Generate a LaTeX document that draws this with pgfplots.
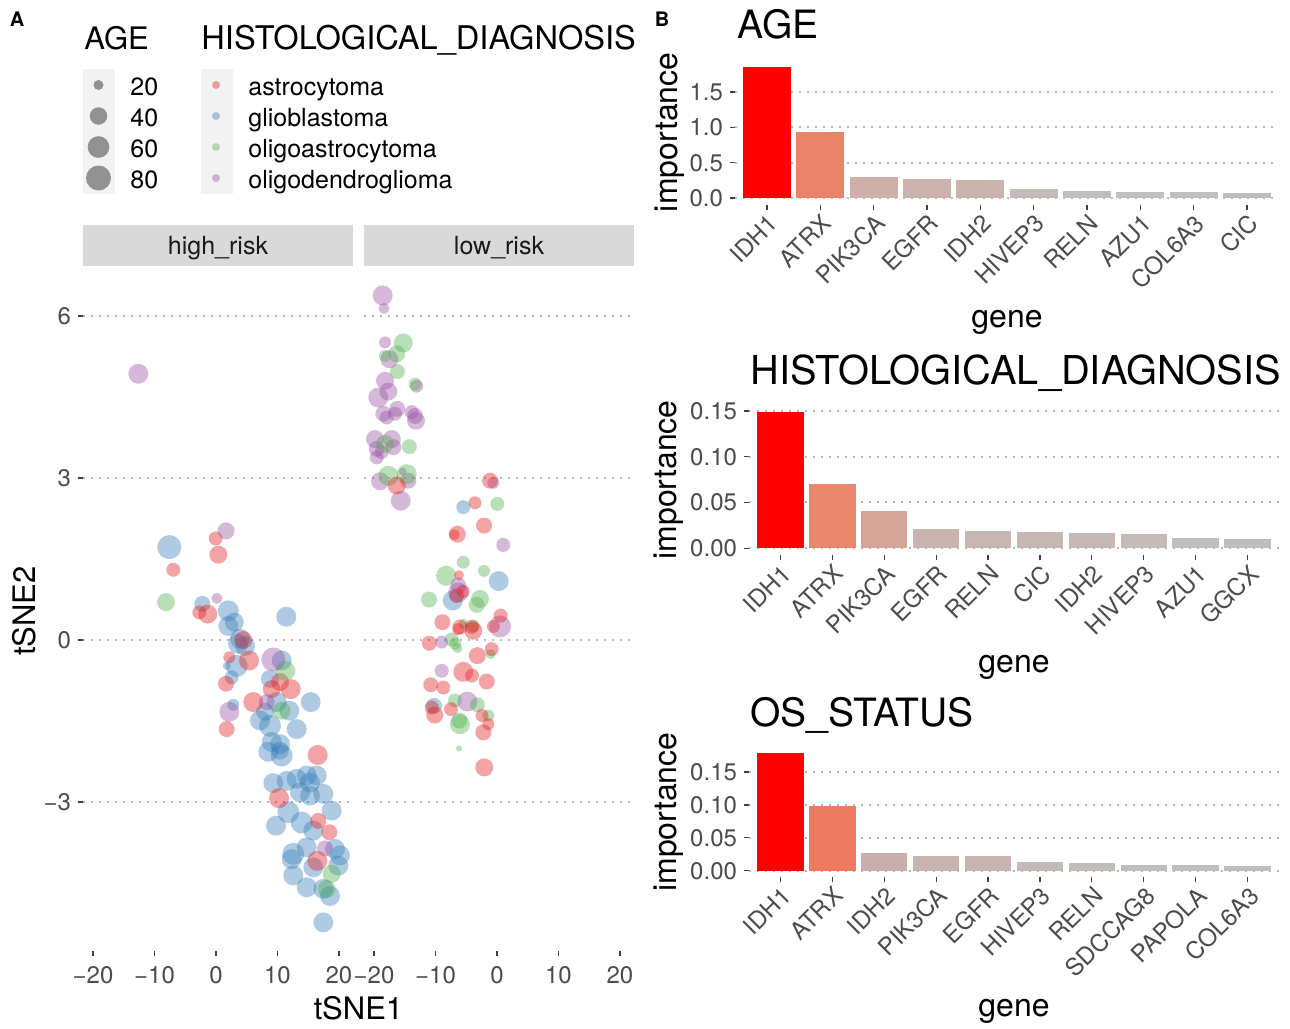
\documentclass[border=0pt]{standalone}
\usepackage{fontspec}
\setmainfont{TeX Gyre Heros}
\usepackage{pgfplots}
\usepackage{pgfplotstable}
\pgfplotsset{compat=1.18}

\definecolor{gridc}{HTML}{B8B8B8}
\definecolor{stripc}{HTML}{D9D9D9}
\definecolor{keybg}{HTML}{F2F2F2}
\definecolor{cls0}{HTML}{E41A1C}
\definecolor{cls1}{HTML}{377EB8}
\definecolor{cls2}{HTML}{4DAF4A}
\definecolor{cls3}{HTML}{984EA3}
\definecolor{cls4}{HTML}{000000}
% AGE bars
\definecolor{a1}{HTML}{FF0000}\definecolor{a2}{HTML}{E9836A}\definecolor{a3}{HTML}{CEB0A9}
\definecolor{a4}{HTML}{CCB2AC}\definecolor{a5}{HTML}{CBB3AD}\definecolor{a6}{HTML}{C4BBB9}
\definecolor{a7}{HTML}{C1BDBC}\definecolor{a8}{HTML}{C0BEBD}\definecolor{a9}{HTML}{C0BEBD}
\definecolor{a10}{HTML}{BEBEBE}
% HIST bars
\definecolor{h1}{HTML}{FF0000}\definecolor{h2}{HTML}{E9876D}\definecolor{h3}{HTML}{D7A597}
\definecolor{h4}{HTML}{C9B4AF}\definecolor{h5}{HTML}{C8B6B1}\definecolor{h6}{HTML}{C7B7B3}
\definecolor{h7}{HTML}{C6B8B5}\definecolor{h8}{HTML}{C4BAB8}\definecolor{h9}{HTML}{BFBEBE}
\definecolor{h10}{HTML}{BEBEBE}
% OS bars
\definecolor{o1}{HTML}{FF0000}\definecolor{o2}{HTML}{EE7A62}\definecolor{o3}{HTML}{CAB0AA}
\definecolor{o4}{HTML}{C8B3AE}\definecolor{o5}{HTML}{C8B3AE}\definecolor{o6}{HTML}{C3BBB9}
\definecolor{o7}{HTML}{C2BCBB}\definecolor{o8}{HTML}{BFBEBE}\definecolor{o9}{HTML}{BFBEBE}
\definecolor{o10}{HTML}{BEBEBE}

% c: 0 astrocytoma, 1 glioblastoma, 2 oligoastrocytoma, 3 oligodendroglioma; d: point diameter (px)
\pgfplotstableread{
x y d c
-12.63 4.93 20 3
-7.59 1.72 24 1
-0.05 1.88 14 0
1.63 2.02 17 3
0.37 1.58 18 0
-6.94 1.30 14 0
-8.13 0.70 18 2
-2.23 0.67 16 1
0.16 0.77 11 3
-2.72 0.51 14 0
-1.35 0.48 19 0
2.00 0.54 21 1
2.98 0.33 19 1
2.00 0.26 20 1
11.43 0.43 20 1
3.90 0.02 20 1
3.58 -0.07 20 1
4.72 -0.11 20 1
4.44 0.00 18 0
2.16 -0.32 12 0
1.74 -0.48 8 1
3.37 -0.48 22 1
5.37 -0.38 20 0
2.55 -0.69 14 1
1.63 -0.81 16 0
9.32 -0.36 24 3
10.68 -0.38 20 1
11.27 -0.57 20 2
8.78 -0.72 18 1
10.41 -0.78 18 0
9.06 -0.91 18 0
12.15 -0.91 20 0
6.07 -1.15 20 0
15.40 -1.15 20 1
2.81 -1.20 12 1
2.16 -1.33 20 3
1.74 -1.65 16 0
9.87 -1.15 20 1
8.24 -1.15 16 3
11.92 -1.31 20 1
7.97 -1.33 18 1
10.68 -1.31 18 2
7.15 -1.49 20 1
8.78 -1.59 22 1
13.12 -1.65 20 1
9.06 -1.89 20 1
10.41 -1.93 20 1
8.50 -2.07 20 1
10.41 -2.05 18 1
10.68 -2.14 22 1
16.54 -2.13 20 0
9.32 -2.65 20 1
11.50 -2.61 20 1
13.12 -2.57 20 1
14.75 -2.51 20 1
16.37 -2.51 20 1
15.28 -2.64 20 1
13.66 -2.82 20 1
15.28 -2.88 20 1
17.45 -2.85 20 1
18.81 -3.16 20 1
10.24 -2.93 20 0
11.76 -3.19 22 1
9.76 -3.44 20 1
13.93 -3.38 22 1
15.82 -3.53 20 1
16.63 -3.35 16 0
18.42 -3.56 16 0
14.75 -3.84 20 1
12.57 -3.96 22 1
12.31 -4.06 20 1
17.72 -3.86 16 3
19.35 -3.87 20 1
20.16 -3.99 20 1
15.82 -4.21 20 1
19.89 -4.18 20 1
16.47 -4.09 20 0
18.81 -4.33 18 2
12.57 -4.36 20 1
14.75 -4.58 20 1
17.45 -4.61 20 1
18.54 -4.74 20 1
18.00 -4.61 18 2
17.45 -5.23 20 1
}\hightbl

\pgfplotstableread{
x y d c
-18.59 6.38 20 3
-18.37 6.14 11 3
-18.21 5.51 12 3
-15.24 5.50 19 2
-16.31 5.30 17 2
-17.51 5.20 18 3
-18.21 5.26 12 2
-16.21 4.97 15 2
-18.21 4.80 18 3
-17.67 4.60 18 3
-19.30 4.49 20 3
-13.33 4.74 13 2
-13.06 4.70 13 3
-18.49 4.19 16 3
-16.21 4.28 16 3
-16.59 4.19 14 3
-17.93 4.12 14 3
-13.87 4.22 14 3
-13.17 4.06 18 3
-13.33 4.15 16 3
-19.84 3.72 18 3
-17.12 3.72 18 3
-19.56 3.54 16 3
-18.21 3.63 18 2
-18.75 3.48 14 3
-16.86 3.57 16 3
-19.56 3.38 14 3
-14.26 3.58 15 2
-17.67 3.04 20 2
-14.68 3.07 20 2
-19.02 2.94 18 3
-14.42 2.95 16 3
-15.33 3.12 8 3
-16.31 2.86 18 0
-15.66 2.58 20 3
-1.14 2.95 16 0
-0.60 2.91 12 3
-5.48 2.46 14 1
-3.58 2.54 13 0
0.05 2.52 14 2
-2.11 2.12 16 0
-6.46 1.96 17 0
-6.94 1.95 11 0
1.02 1.76 14 3
-5.48 1.44 13 2
-2.11 1.28 12 2
0.28 1.09 20 1
-8.29 1.19 20 2
-6.18 1.20 10 0
-6.29 1.01 16 3
-6.29 0.88 20 3
-5.48 0.90 13 0
-6.55 0.82 15 0
-7.20 0.73 20 1
-11.06 0.75 16 2
-2.76 0.76 18 2
-3.30 0.65 16 2
-8.89 0.33 16 0
-6.02 0.24 15 0
-6.29 0.20 12 0
-5.48 0.30 10 2
-4.11 0.24 14 0
-3.85 0.17 18 0
-3.85 0.26 13 2
0.60 0.45 14 0
0.49 0.25 22 3
-0.60 0.25 13 0
-11.01 -0.06 15 0
-8.99 -0.04 13 3
-7.37 0.01 14 2
-6.83 -0.07 12 2
-6.46 -0.15 10 2
-0.86 -0.17 14 0
-1.02 -0.26 10 2
-3.20 -0.29 17 0
-8.99 -0.57 14 3
-5.48 -0.59 20 0
-4.07 -0.66 14 0
-1.67 -0.77 16 0
-10.78 -0.83 15 0
-8.73 -0.88 14 0
-10.24 -1.22 16 1
-10.62 -1.25 14 0
-10.13 -1.39 17 0
-7.48 -1.28 14 0
-6.83 -1.12 14 2
-4.83 -1.14 20 3
-3.20 -1.20 15 2
-2.44 -1.40 13 0
-1.41 -1.40 12 2
-6.13 -1.49 16 2
-6.02 -1.56 20 2
-1.41 -1.56 12 0
-2.23 -1.71 16 0
-6.18 -2.01 6 2
-2.07 -2.36 18 0
}\lowtbl

\pgfplotstableread{
x y d c
98.5 85 10 4
98.5 116 17.5 4
98.5 147 21.7 4
98.5 178 25 4
216 85 8 0
216 116 8 1
216 147 8 2
216 178 8 3
}\legtbl

\pgfplotsset{
  pts/.style={scatter, only marks, mark=*, point meta=y,
    visualization depends on={\thisrow{d}\as\dsz},
    scatter/use mapped color={draw opacity=0, fill=#1, fill opacity=0.4},
    scatter/@pre marker code/.append style={/tikz/mark size=\dsz/4}},
  cl/.style={restrict expr to domain={\thisrow{c}}{#1:#1}},
  common/.style={scale only axis, anchor=north west,
    axis line style={draw=none}, tick pos=left, tick align=outside,
    major tick length=2.5pt, tick style={black!75, line width=0.55pt},
    ticklabel style={font=\fontsize{12}{14}\selectfont, text=black!70},
    ymajorgrids, major grid style={gridc, line width=0.9pt, dash pattern=on 0.9pt off 3.1pt}},
  scat/.style={common, width=135pt, height=341pt,
    xmin=-21.63, xmax=22.28, ymin=-5.76, ymax=6.87,
    xtick={-20,-10,0,10,20}, xticklabels={−20,−10,0,10,20},
    xticklabel style={yshift=-1.5pt},
    ytick={-3,0,3,6}},
  barax/.style={common, xmin=-0.6, xmax=9.6, xtick={0,...,9},
    xticklabel style={rotate=45, anchor=north east, inner sep=1pt},
    label style={font=\fontsize{16}{18}\selectfont, text=black},
    title style={font=\fontsize{19.5}{22}\selectfont, anchor=base west, inner sep=0pt}},
  b/.style={ybar, bar width=0.9, bar shift=0pt, draw=none, fill=#1},
}

\begin{document}
\begin{tikzpicture}[x=0.5pt,y=-0.5pt]
\path[use as bounding box] (0,0) rectangle (1290,1028);
\coordinate (C0) at (0,0);
\coordinate (S1) at (83,269);
\coordinate (S2) at (364,269);
\coordinate (B1) at (735,60.0);
\coordinate (B2) at (749,405.1);
\coordinate (B3) at (749,747.6);

% legend key backgrounds and facet strips
\fill[keybg] (83,69) rectangle (114.5,193.5);
\fill[keybg] (201,69) rectangle (232.5,193.5);
\fill[stripc] (83,225) rectangle (353,266);
\fill[stripc] (364,225) rectangle (634,266);

% legend keys
\begin{axis}[at={(C0)}, anchor=north west, scale only axis, width=645pt, height=514pt,
  xmin=0, xmax=1290, ymin=0, ymax=1028, y dir=reverse, hide axis, clip=false]
\addplot[pts=cls4, cl=4] table[x=x,y=y] {\legtbl};
\addplot[pts=cls0, cl=0] table[x=x,y=y] {\legtbl};
\addplot[pts=cls1, cl=1] table[x=x,y=y] {\legtbl};
\addplot[pts=cls2, cl=2] table[x=x,y=y] {\legtbl};
\addplot[pts=cls3, cl=3] table[x=x,y=y] {\legtbl};
\end{axis}

\node[font=\bfseries\fontsize{10}{12}\selectfont] at (17,19) {A};
\node[font=\bfseries\fontsize{10}{12}\selectfont] at (662,19) {B};
\node[font=\fontsize{15.5}{18}\selectfont, anchor=base west, inner sep=0pt] at (84,49) {AGE};
\node[font=\fontsize{16.3}{18}\selectfont, anchor=base west, inner sep=0pt] at (201,49) {HISTOLOGICAL\_DIAGNOSIS};
\foreach \v/\yy in {20/95,40/126,60/157,80/188}
  \node[font=\fontsize{12.5}{14}\selectfont, anchor=base west, inner sep=0pt] at (130,\yy) {\v};
\node[font=\fontsize{12.5}{14}\selectfont, anchor=base west, inner sep=0pt] at (248,95) {astrocytoma};
\node[font=\fontsize{12.5}{14}\selectfont, anchor=base west, inner sep=0pt] at (248,126) {glioblastoma};
\node[font=\fontsize{12.5}{14}\selectfont, anchor=base west, inner sep=0pt] at (248,157) {oligoastrocytoma};
\node[font=\fontsize{12.5}{14}\selectfont, anchor=base west, inner sep=0pt] at (248,188) {oligodendroglioma};
\node[font=\fontsize{12.5}{14}\selectfont, anchor=base, inner sep=0pt, text=black!90] at (218,254) {high\_risk};
\node[font=\fontsize{12.5}{14}\selectfont, anchor=base, inner sep=0pt, text=black!90] at (499,254) {low\_risk};
\node[font=\fontsize{15.5}{18}\selectfont, anchor=base, inner sep=0pt] at (358.5,1019) {tSNE1};
\node[font=\fontsize{15.5}{18}\selectfont, anchor=base, inner sep=0pt, rotate=90] at (35,611) {tSNE2};

% scatter panels
\begin{axis}[scat, at={(S1)}, yticklabels={−3,0,3,6}]
\addplot[pts=cls1, cl=1] table[x=x,y=y] {\hightbl};
\addplot[pts=cls0, cl=0] table[x=x,y=y] {\hightbl};
\addplot[pts=cls2, cl=2] table[x=x,y=y] {\hightbl};
\addplot[pts=cls3, cl=3] table[x=x,y=y] {\hightbl};
\end{axis}
\begin{axis}[scat, at={(S2)}, yticklabels={}, ytick style={draw=none}]
\addplot[pts=cls3, cl=3] table[x=x,y=y] {\lowtbl};
\addplot[pts=cls2, cl=2] table[x=x,y=y] {\lowtbl};
\addplot[pts=cls1, cl=1] table[x=x,y=y] {\lowtbl};
\addplot[pts=cls0, cl=0] table[x=x,y=y] {\lowtbl};
\end{axis}

% AGE bars
\begin{axis}[barax, at={(B1)}, width=272pt, height=72.3pt, ymin=-0.093, ymax=1.953,
  ytick={0,0.5,1,1.5}, yticklabels={0.0,0.5,1.0,1.5},
  xticklabels={IDH1,ATRX,PIK3CA,EGFR,IDH2,HIVEP3,RELN,AZU1,COL6A3,CIC},
  title={AGE}, title style={at={(axis description cs:0.004,1.069)}},
  xlabel={gene}, xlabel style={at={(axis description cs:0.5,-0.85)}, anchor=base},
  ylabel={importance}, ylabel style={at={(axis description cs:-0.121,0.5)}, anchor=center}]
\addplot[b=a1] coordinates {(0,1.86)};
\addplot[b=a2] coordinates {(1,0.93)};
\addplot[b=a3] coordinates {(2,0.30)};
\addplot[b=a4] coordinates {(3,0.27)};
\addplot[b=a5] coordinates {(4,0.256)};
\addplot[b=a6] coordinates {(5,0.13)};
\addplot[b=a7] coordinates {(6,0.102)};
\addplot[b=a8] coordinates {(7,0.088)};
\addplot[b=a9] coordinates {(8,0.087)};
\addplot[b=a10] coordinates {(9,0.074)};
\end{axis}

% HISTOLOGICAL bars
\begin{axis}[barax, at={(B2)}, width=265pt, height=74.9pt, ymin=-0.00745, ymax=0.15645,
  ytick={0,0.05,0.1,0.15}, yticklabels={0.00,0.05,0.10,0.15},
  xticklabels={IDH1,ATRX,PIK3CA,EGFR,RELN,CIC,IDH2,HIVEP3,AZU1,GGCX},
  title={HISTOLOGICAL\_DIAGNOSIS}, title style={at={(axis description cs:0.002,1.055)}, font=\fontsize{19.9}{22}\selectfont},
  xlabel={gene}, xlabel style={at={(axis description cs:0.5,-0.785)}, anchor=base},
  ylabel={importance}, ylabel style={at={(axis description cs:-0.151,0.5)}, anchor=center}]
\addplot[b=h1] coordinates {(0,0.149)};
\addplot[b=h2] coordinates {(1,0.0704)};
\addplot[b=h3] coordinates {(2,0.041)};
\addplot[b=h4] coordinates {(3,0.0212)};
\addplot[b=h5] coordinates {(4,0.019)};
\addplot[b=h6] coordinates {(5,0.018)};
\addplot[b=h7] coordinates {(6,0.0168)};
\addplot[b=h8] coordinates {(7,0.015)};
\addplot[b=h9] coordinates {(8,0.0113)};
\addplot[b=h10] coordinates {(9,0.0102)};
\end{axis}

% OS_STATUS bars
\begin{axis}[barax, at={(B3)}, width=265pt, height=64.6pt, ymin=-0.0089, ymax=0.1869,
  ytick={0,0.05,0.1,0.15}, yticklabels={0.00,0.05,0.10,0.15},
  xticklabels={IDH1,ATRX,IDH2,PIK3CA,EGFR,HIVEP3,RELN,SDCCAG8,PAPOLA,COL6A3},
  title={OS\_STATUS}, title style={at={(axis description cs:0.002,1.074)}},
  xlabel={gene}, xlabel style={at={(axis description cs:0.5,-1.085)}, anchor=base},
  ylabel={importance}, ylabel style={at={(axis description cs:-0.151,0.5)}, anchor=center}]
\addplot[b=o1] coordinates {(0,0.178)};
\addplot[b=o2] coordinates {(1,0.0987)};
\addplot[b=o3] coordinates {(2,0.027)};
\addplot[b=o4] coordinates {(3,0.0229)};
\addplot[b=o5] coordinates {(4,0.0228)};
\addplot[b=o6] coordinates {(5,0.0132)};
\addplot[b=o7] coordinates {(6,0.0117)};
\addplot[b=o8] coordinates {(7,0.0086)};
\addplot[b=o9] coordinates {(8,0.0086)};
\addplot[b=o10] coordinates {(9,0.0071)};
\end{axis}
\end{tikzpicture}
\end{document}
